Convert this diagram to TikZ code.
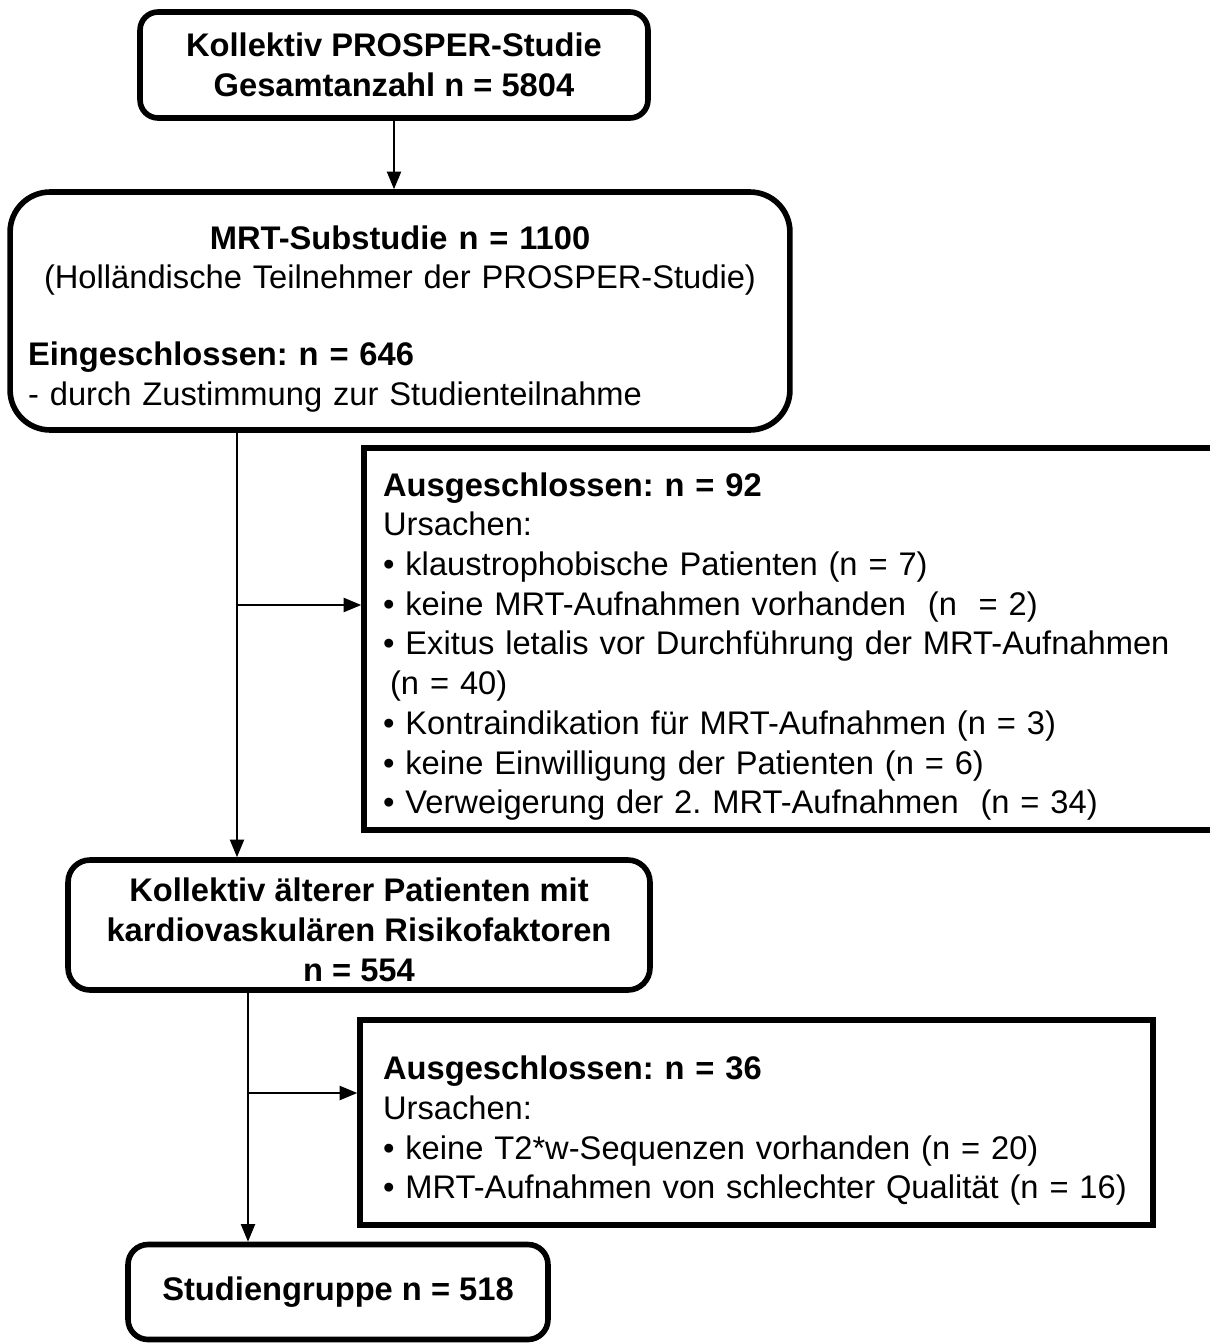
\documentclass[tikz,border=0pt]{standalone}
\usepackage{fontspec}
\setmainfont{Liberation Sans}
\frenchspacing
\usetikzlibrary{arrows.meta}
\newcommand{\padtop}[1]{\rule{0pt}{#1}}
\begin{document}
\begin{tikzpicture}[x=0.02cm,y=-0.02cm,
        rbox/.style={draw,line width=3.2pt,inner sep=0pt,align=center,
            font=\fontsize{18.6}{22.6}\selectfont\bfseries},
        sbox/.style={draw,line width=3.2pt,inner sep=0pt,align=left,
            font=\fontsize{18.6}{22.6}\selectfont},
        arr/.style={-{Triangle[length=10pt,width=8pt]},line width=1.1pt}]
        \useasboundingbox (0,0) rectangle (1209,1344);

        \node[rbox,rounded corners=0.36cm,minimum width=10.16cm,minimum height=2.12cm]
            (total) at (394,65) {Kollektiv PROSPER-Studie\\Gesamtanzahl n = 5804};

        \node[sbox,rounded corners=0.8cm,text width=14.88cm,minimum width=15.6cm,minimum height=4.76cm]
            (mrt) at (400,311) {{\centering\bfseries\padtop{22.4pt}MRT-Substudie n = 1100\\
            \mdseries(Holländische Teilnehmer der PROSPER-Studie)\par}
            \vspace{21pt}
            {\bfseries Eingeschlossen: n = 646}\\- durch Zustimmung zur Studienteilnahme};

        \node[sbox,text width=16.46cm,minimum width=17.22cm,minimum height=7.64cm]
            (excl1) at (794.5,639) {\padtop{22pt}{\bfseries Ausgeschlossen: n = 92}\\
            Ursachen:\\
            • klaustrophobische Patienten (n = 7)\\
            • keine MRT-Aufnahmen vorhanden\ \ (n\ \ = 2)\\
            • Exitus letalis vor Durchführung der MRT-Aufnahmen\\
            \hspace*{4pt}(n = 40)\\
            • Kontraindikation für MRT-Aufnahmen (n = 3)\\
            • keine Einwilligung der Patienten (n = 6)\\
            • Verweigerung der 2. MRT-Aufnahmen\ \ (n = 34)};

        \node[rbox,rounded corners=0.44cm,minimum width=11.64cm,minimum height=2.6cm]
            (coll) at (359,925) {\padtop{19pt}Kollektiv älterer Patienten mit\\kardiovaskulären Risikofaktoren\\n = 554};

        \node[sbox,text width=14.94cm,minimum width=15.86cm,minimum height=4.1cm]
            (excl2) at (756.5,1122.5) {\padtop{23pt}{\bfseries Ausgeschlossen: n = 36}\\
            Ursachen:\\
            • keine T2*w-Sequenzen vorhanden (n = 20)\\
            • MRT-Aufnahmen von schlechter Qualität (n = 16)};

        \node[rbox,rounded corners=0.4cm,minimum width=8.4cm,minimum height=1.9cm]
            (study) at (338,1292) {Studiengruppe n = 518};

        % connectors
        \coordinate (trunk1) at (237,605);
        \coordinate (trunk2) at (248,1093);

        \draw[arr] (total.south) -- (total.south |- mrt.north);
        \draw[arr] (mrt.south -| trunk1) -- (coll.north -| trunk1);
        \draw[arr] (trunk1) -- (trunk1 -| excl1.west);
        \draw[arr] (coll.south -| trunk2) -- (study.north -| trunk2);
        \draw[arr] (trunk2) -- (trunk2 -| excl2.west);

    \end{tikzpicture}
\end{document}
